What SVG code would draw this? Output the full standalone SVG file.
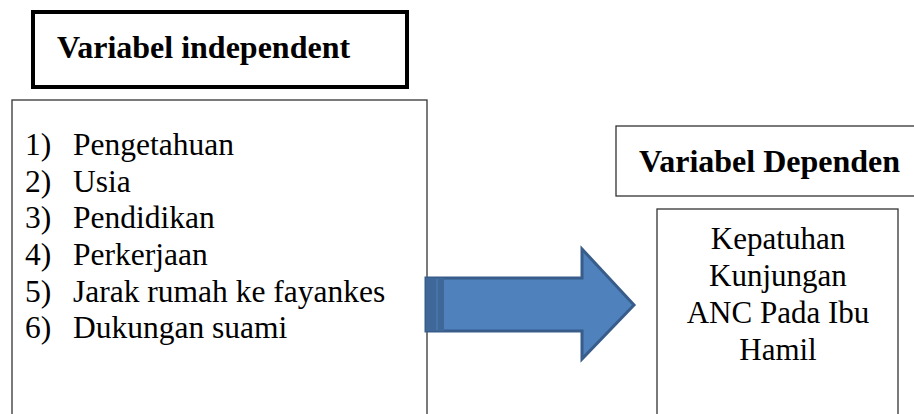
<svg xmlns="http://www.w3.org/2000/svg" width="914" height="414" viewBox="0 0 914 414">
<defs>
<style>
.box{fill:#fff;stroke:#333;stroke-width:1.3}
</style>
</defs>
<rect width="914" height="414" fill="#fff"/>
<g id="title-independent">
<rect x="33" y="12" width="374" height="75" fill="#fff" stroke="#000" stroke-width="4"/>
<text x="57" y="58" font-family="Liberation Serif, Times New Roman, serif" font-size="32" font-weight="bold" fill="#000">Variabel independent</text>
</g>
<g id="independent-list" font-family="Liberation Serif, Times New Roman, serif" font-size="31.5" fill="#000">
<rect class="box" x="12" y="100" width="415" height="330"/>
<text x="25" y="155">1)</text><text x="73" y="155">Pengetahuan</text>
<text x="25" y="191.5">2)</text><text x="73" y="191.5">Usia</text>
<text x="25" y="228">3)</text><text x="73" y="228">Pendidikan</text>
<text x="25" y="265">4)</text><text x="73" y="265">Perkerjaan</text>
<text x="25" y="301.5">5)</text><text x="73" y="301.5">Jarak rumah ke fayankes</text>
<text x="25" y="338">6)</text><text x="73" y="338">Dukungan suami</text>
</g>
<g id="title-dependen">
<rect class="box" x="616" y="126" width="310" height="70"/>
<text x="639" y="172" font-family="Liberation Serif, Times New Roman, serif" font-size="32" font-weight="bold" fill="#000">Variabel Dependen</text>
</g>
<g id="dependen-box" font-family="Liberation Serif, Times New Roman, serif" font-size="31" fill="#000" text-anchor="middle">
<rect class="box" x="657" y="209" width="241" height="230"/>
<text x="778" y="249">Kepatuhan</text>
<text x="778" y="286">Kunjungan</text>
<text x="778" y="323">ANC Pada Ibu</text>
<text x="778" y="360">Hamil</text>
</g>
<g id="connectors">
<path d="M426 278 H582 V249 L634 305 L582 359 V331 H426 Z" fill="#4F81BD" stroke="#385D8A" stroke-width="3" stroke-linejoin="miter"/>
<rect x="426" y="278" width="18" height="53" fill="#3F6898"/>
<line x1="437" y1="279" x2="437" y2="330" stroke="#4F81BD" stroke-width="1"/>
</g>
</svg>
